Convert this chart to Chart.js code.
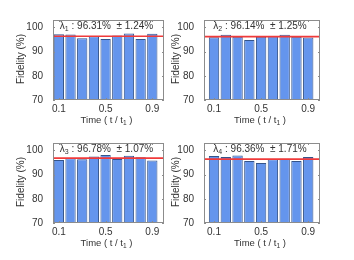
<!DOCTYPE html>
<html lang="en">
<head>
<meta charset="UTF-8">
<title>Fidelity over time</title>
<script src="https://cdn.jsdelivr.net/npm/chart.js"></script>
<style>
  body { margin: 0; background: #fff; }
  #wrap { position: relative; width: 354px; height: 260px; }
  #wrap canvas { position: absolute; left: 0; top: 0; }
</style>
</head>
<body>
<div id="wrap">
  <canvas id="c0" width="354" height="260"></canvas>
  <canvas id="c1" width="354" height="260"></canvas>
  <canvas id="c2" width="354" height="260"></canvas>
  <canvas id="c3" width="354" height="260"></canvas>
</div>
<script>
// data
const times = [0.1, 0.2, 0.3, 0.4, 0.5, 0.6, 0.7, 0.8, 0.9];
const xTicks = [0.1, 0.5, 0.9];
const yTicks = [70, 80, 90, 100];
const fid1 = [97.1, 97.0, 95.5, 96.3, 95.2, 96.6, 97.4, 95.2, 97.3];
const fid2 = [95.9, 96.9, 96.1, 94.8, 96.1, 96.4, 96.9, 96.1, 95.8];
const fid3 = [96.0, 96.7, 96.3, 97.4, 98.0, 96.4, 97.7, 97.1, 95.8];
const fid4 = [97.6, 97.2, 97.8, 95.6, 94.8, 96.3, 96.5, 95.6, 97.2];
const means = [96.31, 96.14, 96.78, 96.36];
const stds = [1.24, 1.25, 1.07, 1.71];
const subs = ['1', '2', '3', '4'];

const series = [fid1, fid2, fid3, fid4];

// panel placement (plot area in page pixels)
const boxes = [
  { left: 53, right: 164, top: 20, bottom: 100, xmin: 0.05, titleOff: 31.5 },
  { left: 204, right: 320, top: 20, bottom: 100, xmin: 0.015, titleOff: 27.5 },
  { left: 53, right: 164, top: 143, bottom: 223, xmin: 0.05, titleOff: 31.5 },
  { left: 204, right: 320, top: 143, bottom: 223, xmin: 0.015, titleOff: 27.5 }
];

const FONT = '"Liberation Sans", Arial, Helvetica, sans-serif';
const TXT = '#333333';
const Y_W = 53, X_H = 30;

function subText(ctx, parts, cx, cy, size) {
  // parts: [text, sub, text]
  ctx.font = size + 'px ' + FONT;
  const subFont = (size * 0.7).toFixed(1) + 'px ' + FONT;
  const w0 = ctx.measureText(parts[0]).width;
  const w2 = ctx.measureText(parts[2]).width;
  ctx.font = subFont;
  const w1 = ctx.measureText(parts[1]).width;
  let x = cx - (w0 + w1 + w2) / 2;
  ctx.textBaseline = 'middle';
  ctx.textAlign = 'left';
  ctx.font = size + 'px ' + FONT;
  ctx.fillText(parts[0], x, cy);
  x += w0;
  ctx.font = subFont;
  ctx.fillText(parts[1], x, cy + size * 0.35);
  x += w1;
  ctx.font = size + 'px ' + FONT;
  ctx.fillText(parts[2], x, cy);
}

const framePlugin = {
  id: 'frame',
  afterDatasetsDraw(chart) {
    const { ctx, chartArea: a } = chart;
    const xs = chart.scales.x, ys = chart.scales.y;
    ctx.save();
    ctx.strokeStyle = '#8c8c8c';
    ctx.lineWidth = 1;
    ctx.strokeRect(a.left + 0.5, a.top + 0.5, a.right - a.left - 1, a.bottom - a.top - 1);
    ctx.beginPath();
    yTicks.forEach(v => {
      const y = Math.round(ys.getPixelForValue(v)) + 0.5;
      ctx.moveTo(a.left, y); ctx.lineTo(a.left + 2, y);
      ctx.moveTo(a.right, y); ctx.lineTo(a.right - 2, y);
    });
    xTicks.forEach(v => {
      const x = Math.round(xs.getPixelForValue(v)) + 0.5;
      ctx.moveTo(x, a.top); ctx.lineTo(x, a.top + 2);
      ctx.moveTo(x, a.bottom); ctx.lineTo(x, a.bottom - 2);
    });
    ctx.stroke();
    ctx.restore();
  },
  afterDraw(chart) {
    const { ctx, chartArea: a } = chart;
    const i = chart.options.plugins.frame.idx;
    const cx = (a.left + a.right) / 2;
    ctx.save();
    ctx.fillStyle = TXT;
    subText(ctx, ['\u03bb', subs[i], ' : ' + means[i].toFixed(2) + '%  \u00b1 ' + stds[i].toFixed(2) + '%'],
      cx - 2, a.top + 6, 10);
    subText(ctx, ['Time ( t / t', '1', ' )'], cx - 2, a.bottom + 20, 9.5);
    // y title
    ctx.translate(a.left - boxes[i].titleOff, (a.top + a.bottom) / 2 - 1);
    ctx.rotate(-Math.PI / 2);
    ctx.font = '10px ' + FONT;
    ctx.textAlign = 'center';
    ctx.textBaseline = 'middle';
    ctx.fillText('Fidelity (%)', 0, 0);
    ctx.restore();
  }
};

series.forEach((vals, i) => {
  const b = boxes[i];
  new Chart(document.getElementById('c' + i), {
    type: 'bar',
    data: {
      datasets: [
        {
          type: 'line',
          data: [{ x: b.xmin, y: means[i] }, { x: 1.0, y: means[i] }],
          borderColor: '#f03a3a',
          borderWidth: 1.6,
          pointRadius: 0,
          order: 0
        },
        {
          data: times.map((t, k) => ({ x: t, y: vals[k] })),
          backgroundColor: '#6495ed',
          borderColor: '#34548a',
          borderWidth: 1,
          barPercentage: 0.88,
          categoryPercentage: 1.0,
          order: 1
        }
      ]
    },
    options: {
      responsive: false,
      animation: false,
      events: [],
      layout: {
        padding: {
          left: b.left - Y_W,
          right: 354 - b.right,
          top: b.top,
          bottom: 260 - b.bottom - X_H
        }
      },
      plugins: {
        legend: { display: false },
        tooltip: { enabled: false },
        frame: { idx: i }
      },
      scales: {
        x: {
          type: 'linear',
          offset: false,
          min: b.xmin,
          max: 1.0,
          afterBuildTicks: s => { s.ticks = xTicks.map(v => ({ value: v })); },
          afterFit: s => { s.height = X_H; },
          grid: { display: false, drawTicks: false, offset: false },
          border: { display: false },
          ticks: {
            padding: 3,
            color: TXT,
            font: { family: FONT, size: 10 },
            callback: v => v.toFixed(1)
          }
        },
        y: {
          min: 70,
          max: 103,
          afterBuildTicks: s => { s.ticks = yTicks.map(v => ({ value: v })); },
          afterFit: s => { s.width = Y_W; },
          grid: { display: false, drawTicks: false },
          border: { display: false },
          ticks: {
            padding: 10,
            color: TXT,
            font: { family: FONT, size: 10 }
          }
        }
      }
    },
    plugins: [framePlugin]
  });
});
</script>
</body>
</html>
